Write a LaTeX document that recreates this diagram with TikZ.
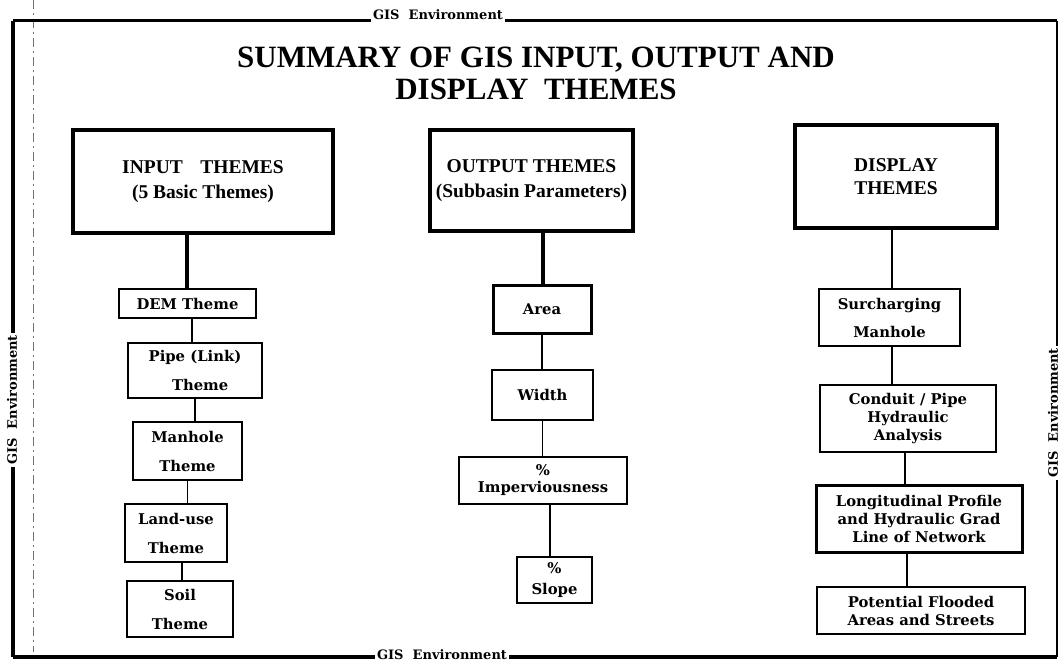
\documentclass[tikz,border=0pt]{standalone}
\usepackage{fontspec}
\setmainfont{Liberation Serif}
\newfontfamily\boxfont{DejaVu Serif}
\begin{document}
\begin{tikzpicture}[x=1pt,y=-1pt,
  hdr/.style={draw,line width=4pt,align=center,inner sep=0pt,
    font=\fontsize{19.5}{25}\selectfont\bfseries},
  item/.style={draw,line width=1.2pt,align=center,inner sep=0pt,
    font=\boxfont\fontsize{14.8}{18}\selectfont\bfseries},
  bold item/.style={item,line width=2.5pt},
  envlabel/.style={inner sep=2pt,font=\boxfont\fontsize{13}{14}\selectfont\bfseries},
  link/.style={line width=1.2pt},
  trunk/.style={line width=4pt}]
\useasboundingbox (0,0) rectangle (1059,668);

% stray fold line of the sheet
\coordinate (fold top) at (33,0);
\coordinate (fold bottom) at (33,652);
\draw[black!55,line width=0.7pt,dash pattern=on 9pt off 4pt on 2pt off 4pt] (fold top) -- (fold bottom);

% frame corners
\coordinate (tl) at (13,21);
\coordinate (tr) at (1057,21);
\coordinate (br) at (1057,657);
\coordinate (bl) at (13,657);

% frame labels
\node[envlabel] (ltop) at (438,15) {GIS\ \ Environment};
\node[envlabel] (lbot) at (442,655) {GIS\ \ Environment};
\node[envlabel,rotate=90] (lleft) at (12,400) {GIS\ \ Environment};
\node[envlabel,rotate=90] (lright) at (1053,413) {GIS\ \ Environment};

% frame
\draw[line width=3pt] (ltop.west |- tl) -- (tl);
\draw[line width=3pt] (ltop.east |- tl) -- (tr);
\draw[line width=3.5pt] (tl) -- (lleft.east -| tl);
\draw[line width=3.5pt] (lleft.west -| bl) -- (bl);
\draw[line width=3.5pt] (bl) -- (lbot.west |- bl);
\draw[line width=3.5pt] (lbot.east |- bl) -- (br);
\draw[line width=1.5pt] (tr) -- (lright.east -| tr);
\draw[line width=1.5pt] (lright.west -| br) -- (br);

% title
\node[align=center,font=\fontsize{31}{32}\selectfont\bfseries] (title) at (536,73)
  {SUMMARY OF GIS INPUT, OUTPUT AND\\DISPLAY\ \ THEMES};

% column headers
\node[hdr,minimum width=260,minimum height=103] (inhdr) at (203,181.5)
  {INPUT\hspace{0.9em}THEMES\\(5 Basic Themes)};
\node[hdr,minimum width=203,minimum height=101] (outhdr) at (531.5,180.5)
  {OUTPUT THEMES\\(Subbasin Parameters)};
\node[hdr,minimum width=202,minimum height=103,font=\fontsize{19.5}{23}\selectfont\bfseries] (disphdr) at (896,177)
  {DISPLAY\\THEMES};

% input themes
\node[item,minimum width=137,minimum height=29] (dem) at (187.5,303.5) {DEM\ Theme};
\node[item,minimum width=134,minimum height=55,font=\boxfont\fontsize{14.8}{29}\selectfont\bfseries] (pipe) at (195,370.5) {Pipe (Link)\\\ \ Theme};
\node[bold item,minimum width=109,minimum height=58,font=\boxfont\fontsize{14.8}{29}\selectfont\bfseries] (manhole) at (187.5,451) {Manhole\\Theme};
\node[bold item,minimum width=102,minimum height=58,font=\boxfont\fontsize{14.8}{29}\selectfont\bfseries] (landuse) at (176,533) {Land-use\\Theme};
\node[bold item,line width=2.2pt,minimum width=106,minimum height=56,font=\boxfont\fontsize{14.8}{29}\selectfont\bfseries] (soil) at (180,609) {Soil\\Theme};

% output themes
\node[item,line width=3pt,minimum width=98,minimum height=48] (area) at (542,309) {Area};
\node[item,minimum width=101,minimum height=50] (width) at (542.5,395) {Width};
\node[item,minimum width=168,minimum height=47,font=\boxfont\fontsize{14.8}{17}\selectfont\bfseries] (imperv) at (543,480.5) {\%\\Imperviousness};
\node[item,minimum width=75,minimum height=46,font=\boxfont\fontsize{14.8}{21}\selectfont\bfseries] (slope) at (554.5,580) {\%\\Slope};

% display themes
\node[item,line width=1.5pt,minimum width=141,minimum height=57,font=\boxfont\fontsize{14.8}{28}\selectfont\bfseries] (surch) at (889.5,317.5) {Surcharging\\Manhole};
\node[item,line width=2pt,minimum width=176,minimum height=67] (conduit) at (908,418.5) {Conduit / Pipe\\Hydraulic\\Analysis};
\node[item,line width=3pt,minimum width=206,minimum height=67] (longit) at (919,518.5) {Longitudinal Profile\\and Hydraulic Grad\\Line of Network};
\node[item,line width=2pt,minimum width=208,minimum height=47] (flood) at (921,610.5) {Potential Flooded\\Areas and Streets};

% connectors
\draw[trunk] ([xshift=-16pt]inhdr.south) -- ([xshift=-16pt]inhdr.south |- dem.north);
\draw[link] ([xshift=4.5pt]dem.south) -- ([xshift=4.5pt]dem.south |- pipe.north);
\draw[link] (pipe.south) -- (pipe.south |- manhole.north);
\draw[link] (manhole.south) -- (manhole.south |- landuse.north);
\draw[link] ([xshift=6pt]landuse.south) -- ([xshift=6pt]landuse.south |- soil.north);

\draw[trunk] ([xshift=11.5pt]outhdr.south) -- ([xshift=11.5pt]outhdr.south |- area.north);
\draw[link] (area.south) -- (area.south |- width.north);
\draw[link] (width.south) -- (width.south |- imperv.north);
\draw[link] ([xshift=7pt]imperv.south) -- ([xshift=7pt]imperv.south |- slope.north);

\draw[link] ([xshift=-4pt]disphdr.south) -- ([xshift=-4pt]disphdr.south |- surch.north);
\draw[link] ([xshift=2.5pt]surch.south) -- ([xshift=2.5pt]surch.south |- conduit.north);
\draw[link] ([xshift=-3pt]conduit.south) -- ([xshift=-3pt]conduit.south |- longit.north);
\draw[link] ([xshift=-12pt]longit.south) -- ([xshift=-12pt]longit.south |- flood.north);
\end{tikzpicture}
\end{document}
